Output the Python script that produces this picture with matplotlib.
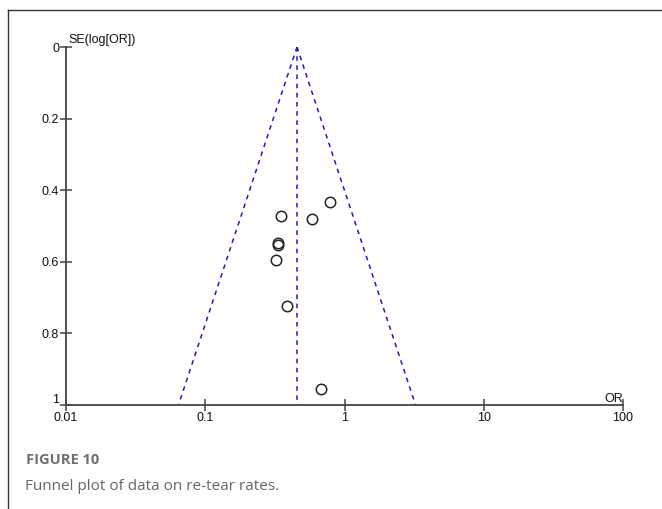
import numpy as np
import matplotlib
matplotlib.use("Agg")
import matplotlib.pyplot as plt
import matplotlib.transforms as mtrans
from matplotlib.lines import Line2D

# Data
study_or = [0.79, 0.348, 0.585, 0.331, 0.331, 0.320, 0.385, 0.678]
study_se = [0.433, 0.473, 0.481, 0.547, 0.553, 0.595, 0.723, 0.954]
pooled_or = 0.456
x_ticks = [0.01, 0.1, 1, 10, 100]
x_tick_labels = ["0.01", "0.1", "1", "10", "100"]
y_ticks = [0, 0.2, 0.4, 0.6, 0.8, 1.0]
y_tick_labels = ["0", "0.2", "0.4", "0.6", "0.8", "1"]

W, H = 662, 509
fig = plt.figure(figsize=(W / 100, H / 100), dpi=100)
plt.rcParams['font.family'] = ['Liberation Sans', 'DejaVu Sans']

ax = fig.add_axes([66 / W, 1 - 405 / H, (623 - 66) / W, (405 - 47) / H])
ax.set_xscale('log')
ax.set_xlim(0.01, 100)
ax.set_ylim(1, 0)

# funnel
se_line = np.array([0.0, 1.0])
lp = np.log(pooled_or)
ax.plot(np.exp(lp - 1.96 * se_line), se_line, color='#1a1acc', lw=1.1, ls=(0, (3, 3)))
ax.plot(np.exp(lp + 1.96 * se_line), se_line, color='#1a1acc', lw=1.1, ls=(0, (3, 3)))
ax.plot([pooled_or, pooled_or], [0, 1], color='#1a1acc', lw=1.1, ls=(0, (3, 3)))

ax.plot(study_or, study_se, ls='none', marker='o', ms=7.5, mfc='none',
        mec='#222222', mew=1.1, clip_on=False)

for s in ['top', 'right']:
    ax.spines[s].set_visible(False)
for s in ['left', 'bottom']:
    ax.spines[s].set_color('#444444')
    ax.spines[s].set_linewidth(1.3)

ax.set_xticks(x_ticks)
ax.set_xticklabels(x_tick_labels)
ax.xaxis.set_minor_locator(matplotlib.ticker.NullLocator())
ax.set_yticks(y_ticks)
ax.set_yticklabels(y_tick_labels)
ax.tick_params(direction='inout', length=8, width=1.1, color='#444444',
               labelsize=9, labelcolor='#111111', pad=1)
ax.tick_params(axis='x', pad=1)

# raise the "1" label slightly, as in the reference
lab = ax.get_yticklabels()[-1]
lab.set_transform(lab.get_transform() + mtrans.ScaledTranslation(0, 5 / 72, fig.dpi_scale_trans))

ax.text(2 / 557, 1.0 + 1 / 358, 'SE(log[OR])', fontsize=9, color='#111111',
        ha='left', va='bottom', transform=ax.transAxes)
ax.text(1.0, 0.0, 'OR', fontsize=9, color='#111111',
        ha='right', va='bottom', transform=ax.transAxes)

# border lines
fig.add_artist(Line2D([8 / W, 8 / W], [0, 1 - 10 / H], transform=fig.transFigure,
                      color='#333333', lw=1.0))
fig.add_artist(Line2D([8 / W, 1], [1 - 10 / H, 1 - 10 / H], transform=fig.transFigure,
                      color='#333333', lw=1.0))

fig.text(26 / W, 1 - 460 / H, 'FIGURE 10', fontsize=10.5, fontweight='bold',
         color='#707070', family=['Open Sans', 'DejaVu Sans'], va='center', ha='left')
fig.text(25 / W, 1 - 487 / H, 'Funnel plot of data on re-tear rates.', fontsize=11,
         color='#666666', family=['Open Sans', 'DejaVu Sans'], va='center', ha='left')

fig.savefig('out.png', dpi=100)
